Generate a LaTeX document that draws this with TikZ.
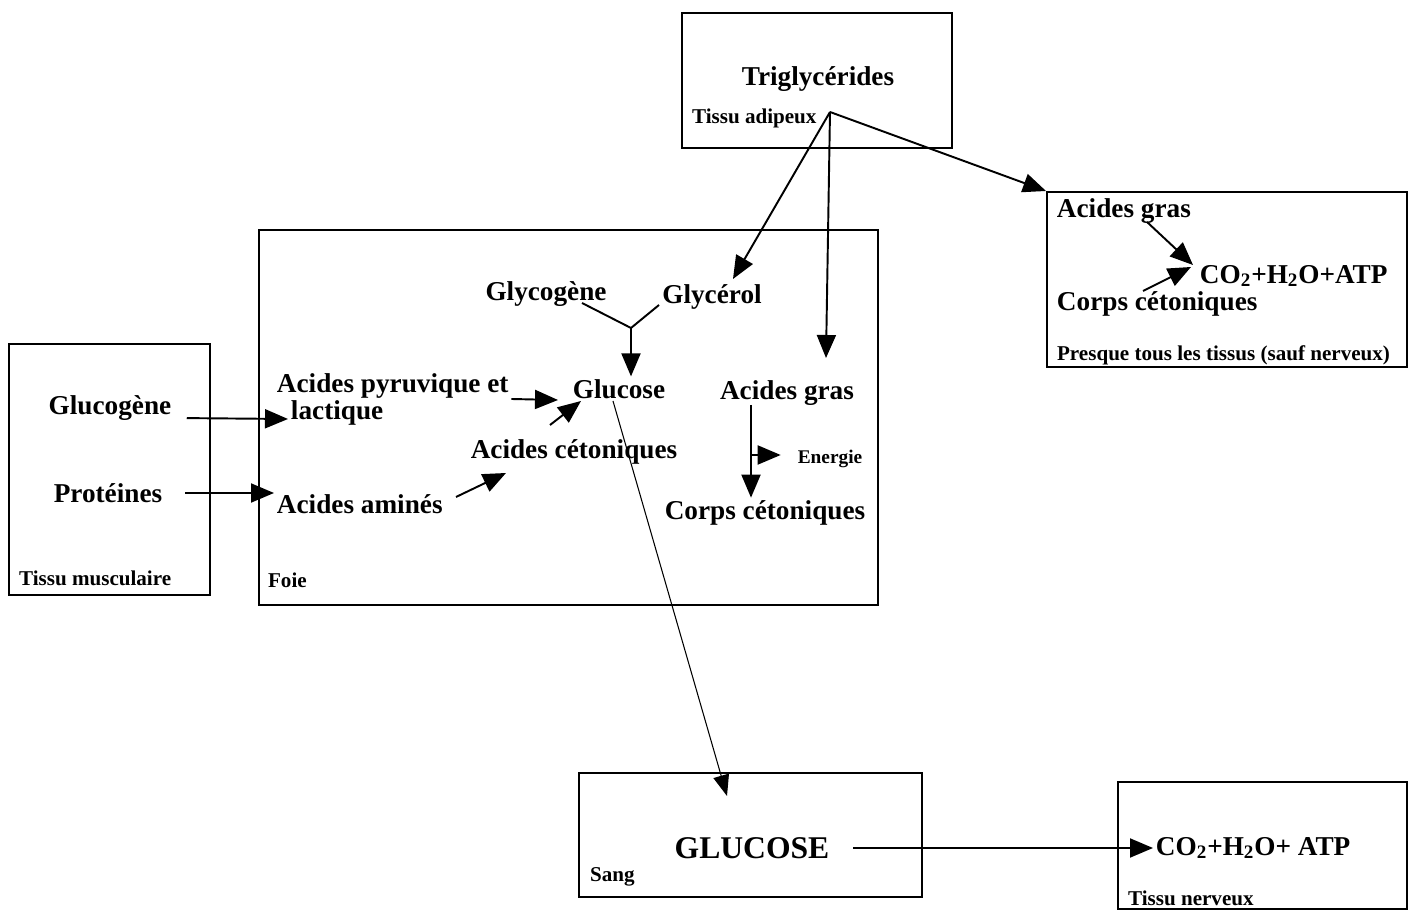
\documentclass[tikz,border=0pt]{standalone}
\usepackage{fontspec}
\setmainfont{Liberation Serif}
\usetikzlibrary{arrows.meta,positioning}
\tikzset{
  box/.style={rectangle,draw=black,line width=.8pt,inner sep=0pt},
  lbl/.style={font=\fontsize{15.5}{17}\selectfont\bfseries,inner sep=1.5pt},
  tag/.style={font=\fontsize{12}{14}\selectfont\bfseries,inner sep=1pt,anchor=west},
  big/.style={font=\fontsize{18}{20}\selectfont\bfseries,inner sep=2pt},
  arr/.style={-{Triangle[length=4.6mm,width=3.8mm]},line width=1.1pt},
  thin/.style={-{Triangle[length=4.2mm,width=3.2mm]},line width=.6pt},
  link/.style={line width=1.1pt},
}
\begin{document}
\begin{tikzpicture}[x=0.02cm,y=-0.02cm]
  \useasboundingbox (0,0) rectangle (1414,911);
  % compartments
  \node[box,minimum width=5.40cm,minimum height=2.70cm] (adip) at (817,80.5) {};
  \node[box,minimum width=7.20cm,minimum height=3.50cm] (tissus) at (1227,279.5) {};
  \node[box,minimum width=12.38cm,minimum height=7.50cm] (foie) at (568.5,417.5) {};
  \node[box,minimum width=4.02cm,minimum height=5.02cm] (muscle) at (109.5,469.5) {};
  \node[box,minimum width=6.86cm,minimum height=2.48cm] (sang) at (750.5,835) {};
  \node[box,minimum width=5.78cm,minimum height=2.54cm] (nerf) at (1262.5,845.5) {};
  % tissu adipeux
  \node[lbl] (trigly) at (818,79) {Triglycérides};
  \node[tag] (tadip) at (690,118) {Tissu adipeux};
  % presque tous les tissus
  \node[lbl,anchor=west] (agrasb) at (1054,211) {Acides gras};
  \node[lbl,anchor=west] (co2a) at (1197,276) {CO\textsubscript{2}+H\textsubscript{2}O+ATP};
  \node[lbl,anchor=west] (corpsb) at (1054,304) {Corps cétoniques};
  \node[tag] (ttissus) at (1055,355) {Presque tous les tissus (sauf nerveux)};
  % foie
  \node[lbl] (glycog) at (546,294) {Glycogène};
  \node[lbl] (glycer) at (712,297) {Glycérol};
  \node[lbl] (gluc) at (619,389) {Glucose};
  \node[lbl,anchor=west] (pyru) at (274,386) {Acides pyruvique et};
  \node[lbl,anchor=west] (lact) at (288,413) {lactique};
  \node[lbl] (aceto) at (574,452) {Acides cétoniques};
  \node[lbl] (agras) at (787,393) {Acides gras};
  \node[font=\fontsize{11}{13}\selectfont\bfseries,inner sep=1pt] (energ) at (830,459) {Energie};
  \node[lbl] (corps) at (765,513) {Corps cétoniques};
  \node[lbl,anchor=west] (amin) at (274,504) {Acides aminés};
  \node[tag] (tfoie) at (266,580) {Foie};
  % tissu musculaire
  \node[lbl] (glucog) at (110,408) {Glucogène};
  \node[lbl] (prot) at (108,493) {Protéines};
  \node[tag] (tmuscle) at (17,578) {Tissu musculaire};
  % sang, tissu nerveux
  \node[big] (glucs) at (752,848) {GLUCOSE};
  \node[tag] (tsang) at (588,877) {Sang};
  \node[lbl,anchor=west] (co2b) at (1153,848) {CO\textsubscript{2}+H\textsubscript{2}O+ ATP};
  \node[tag] (tnerf) at (1126,898) {Tissu nerveux};
  % branching points
  \coordinate (split) at (830,112);
  \coordinate (join) at (631,328);
  \coordinate (toglycer) at (733,279);
  \coordinate (toagras) at (826,358);
  \coordinate (totissus) at (1046,191);
  \coordinate (branch) at (751,455);
  % connectors
  \draw[arr] (split) -- (totissus);
  \draw[arr] (split) -- (toglycer);
  \draw[arr] (split) -- (toagras);
  \draw[link] (582,303) -- (join) -- (659,305);
  \draw[arr] (join) -- (gluc.north -| join);
  \draw[arr] (pyru.east |- 0,399) -- (558,400);
  \draw[arr] (550,425) -- (581,401);
  \draw[arr] (456,497) -- (506,473);
  \draw[arr,shorten <=2.5mm] (glucog.east |- 0,418) -- (lact.west |- 0,419);
  \draw[arr,shorten <=4mm] (prot.east) -- (prot.east -| amin.west);
  \draw[thin] (613,401) -- (727,796);
  \draw[arr] (751,405) -- (corps.north -| 751,0);
  \draw[arr,shorten >=3mm] (branch) -- (branch -| energ.west);
  \draw[arr] (1147,222) -- (1193,265);
  \draw[arr] (1143,291) -- (1191,267);
  \draw[arr,shorten <=4mm] (glucs.east) -- (co2b.west);
\end{tikzpicture}
\end{document}
